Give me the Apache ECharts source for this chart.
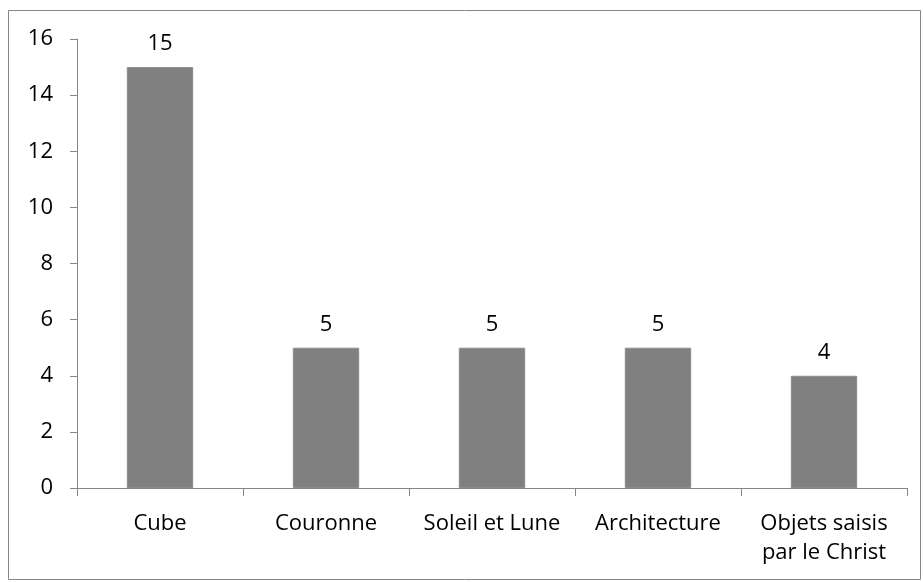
<!DOCTYPE html>
<html><head><meta charset="utf-8">
<script src="https://cdn.jsdelivr.net/npm/echarts@6/dist/echarts.min.js"></script>
<style>html,body{margin:0;padding:0;background:#fff}#c{width:923px;height:582px}</style>
</head><body><div id="c"></div>
<script>
const categories = ["Cube", "Couronne", "Soleil et Lune", "Architecture", "Objets saisis\npar le Christ"];
const values = [15, 5, 5, 5, 4];
const yTicks = [0, 2, 4, 6, 8, 10, 12, 14, 16];

const font = "'Open Sans', 'Liberation Sans', sans-serif";
const chart = echarts.init(document.getElementById('c'), null, {renderer: 'canvas'});
chart.setOption({
  animation: false,
  backgroundColor: '#fff',
  graphic: [{
    type: 'rect', shape: {x: 8.5, y: 10.5, width: 912, height: 569},
    style: {fill: 'none', stroke: '#868686', lineWidth: 1}, silent: true
  }],
  grid: {left: 77, right: 16, top: 39, bottom: 94, containLabel: false},
  xAxis: {
    type: 'category', data: categories,
    axisLine: {lineStyle: {color: '#868686', width: 1}},
    axisTick: {show: true, length: 8, alignWithLabel: false, lineStyle: {color: '#868686'}},
    axisLabel: {color: '#000', fontFamily: font, fontSize: 22, margin: 21, lineHeight: 29, interval: 0}
  },
  yAxis: {
    type: 'value', min: yTicks[0], max: yTicks[yTicks.length - 1], interval: 2,
    splitLine: {show: false},
    axisLine: {show: true, lineStyle: {color: '#868686', width: 1}},
    axisTick: {show: true, length: 7, lineStyle: {color: '#868686'}},
    axisLabel: {color: '#000', fontFamily: font, fontSize: 22, margin: 24, align: 'right'}
  },
  series: [{
    type: 'bar', data: values, barWidth: '40%',
    itemStyle: {color: '#808080', borderColor: '#8c8c8c', borderWidth: 1},
    label: {show: true, position: 'top', distance: 12, color: '#000', fontFamily: font, fontSize: 22}
  }]
});
</script></body></html>
